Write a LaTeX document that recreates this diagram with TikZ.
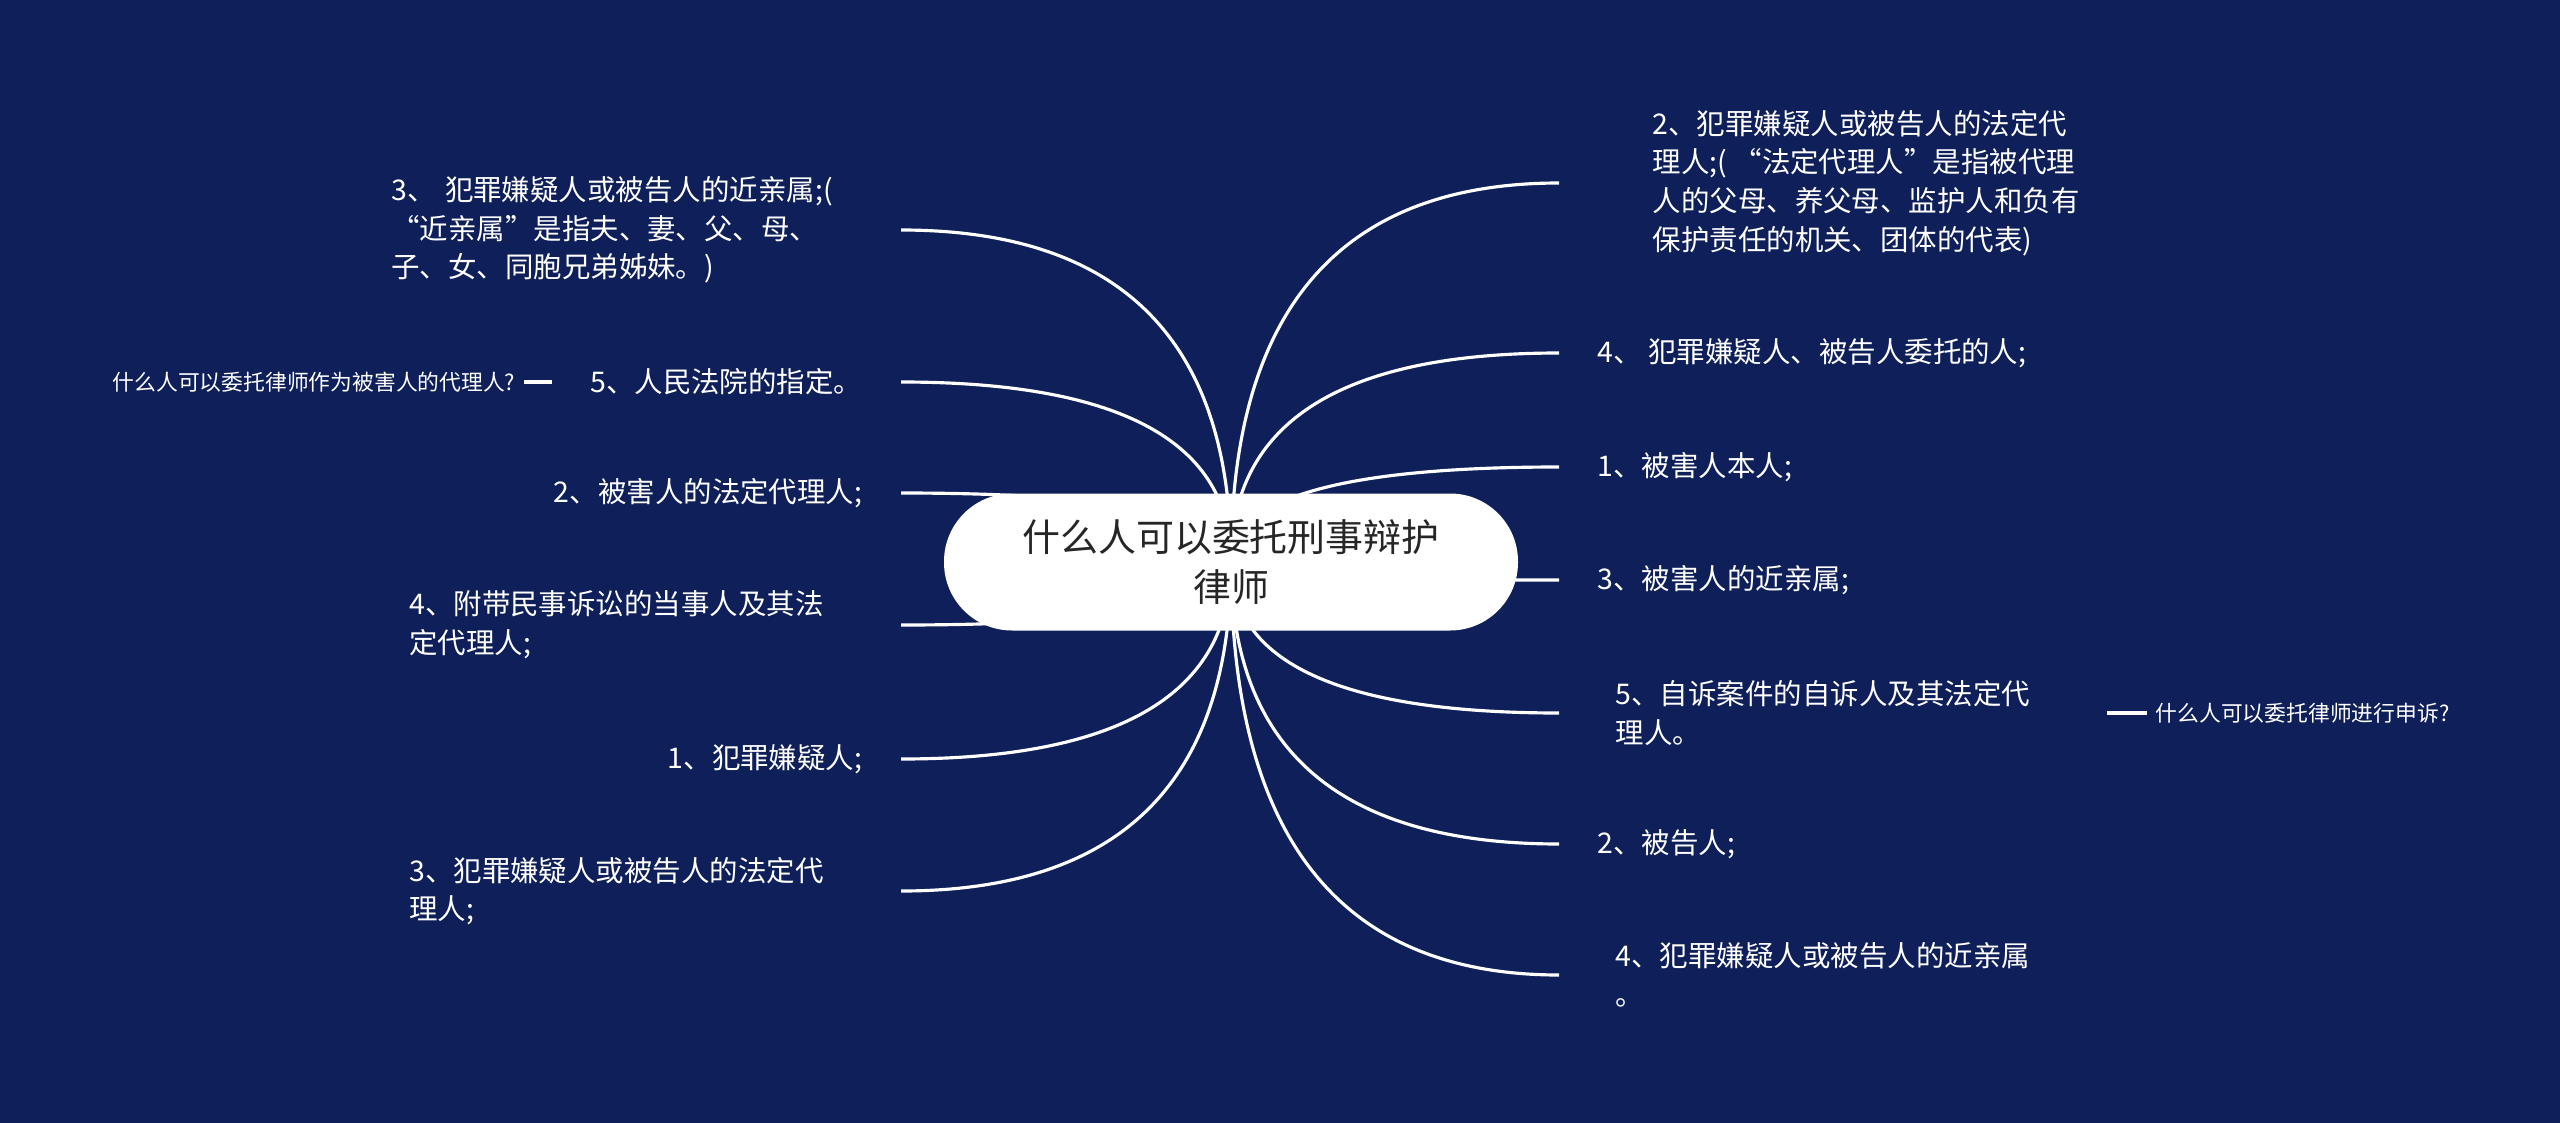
\documentclass[tikz,border=0pt]{standalone}
\usepackage{fontspec}
\setmainfont{Noto Sans CJK SC}
\usepackage{tikz}
\usetikzlibrary{calc}
\definecolor{navy}{RGB}{14,31,89}

\begin{document}
\begin{tikzpicture}[
  leaf/.style={text=white, font=\fontsize{8.1}{11}\selectfont, align=left, inner xsep=.38cm, inner ysep=.05cm},
  note/.style={text=white, font=\fontsize{6.2}{8}\selectfont, inner xsep=.08cm},
  root/.style={fill=white, rounded corners=.68cm, minimum width=5.74cm, minimum height=1.37cm,
    text=black!85, font=\fontsize{10.8}{14}\selectfont, align=center},
  twig/.style={white, line width=.9pt}]

\fill[navy] (0,0) rectangle (25.6,-11.23);
\useasboundingbox (0,0) rectangle (25.6,-11.23);

% left branches
\node[leaf, anchor=east, text width=4.71cm] (l1) at (9.01,-2.30)
  {3、 犯罪嫌疑人或被告人的近亲属;(\\“近亲属”是指夫、妻、父、母、\\子、女、同胞兄弟姊妹。)};
\node[leaf, anchor=east] (l2) at (9.01,-3.82) {5、人民法院的指定。};
\node[leaf, anchor=east] (l3) at (9.01,-4.93) {2、被害人的法定代理人;};
\node[leaf, anchor=east, text width=4.53cm] (l4) at (9.01,-6.25)
  {4、附带民事诉讼的当事人及其法\\定代理人;};
\node[leaf, anchor=east] (l5) at (9.01,-7.59) {1、犯罪嫌疑人;};
\node[leaf, anchor=east, text width=4.53cm] (l6) at (9.01,-8.91)
  {3、犯罪嫌疑人或被告人的法定代\\理人;};

\node[note, anchor=east] (l2s) at (5.24,-3.82) {什么人可以委托律师作为被害人的代理人?};

% right branches
\node[leaf, anchor=west, inner xsep=.93cm] (r1) at (15.59,-1.83)
  {2、犯罪嫌疑人或被告人的法定代\\理人;( “法定代理人”是指被代理\\人的父母、养父母、监护人和负有\\保护责任的机关、团体的代表)};
\node[leaf, anchor=west] (r2) at (15.59,-3.53) {4、 犯罪嫌疑人、被告人委托的人;};
\node[leaf, anchor=west] (r3) at (15.59,-4.67) {1、被害人本人;};
\node[leaf, anchor=west] (r4) at (15.59,-5.80) {3、被害人的近亲属;};
\node[leaf, anchor=west, inner xsep=.56cm, text width=4.35cm] (r5) at (15.59,-7.13)
  {5、自诉案件的自诉人及其法定代\\理人。};
\node[leaf, anchor=west] (r6) at (15.59,-8.44) {2、被告人;};
\node[leaf, anchor=west, inner xsep=.56cm] (r7) at (15.59,-9.75)
  {4、犯罪嫌疑人或被告人的近亲属\\。};

\node[note, anchor=west] (r5s) at (21.47,-7.13) {什么人可以委托律师进行申诉?};

\coordinate (hub) at (12.31,-5.62);

\foreach \n/\a in {l1/east,l2/east,l3/east,l4/east,l5/east,l6/east,
                   r1/west,r2/west,r3/west,r4/west,r5/west,r6/west,r7/west}
  \draw[twig] (hub) .. controls ($(hub)!.667!(hub |- \n.\a)$)
    and ($(\n.\a)!.667!(hub |- \n.\a)$) .. (\n.\a);

\draw[twig] (l2s) -- (l2);
\draw[twig] (r5) -- (r5s);

\node[root] (root) at (hub) {什么人可以委托刑事辩护\\律师};
\end{tikzpicture}
\end{document}
